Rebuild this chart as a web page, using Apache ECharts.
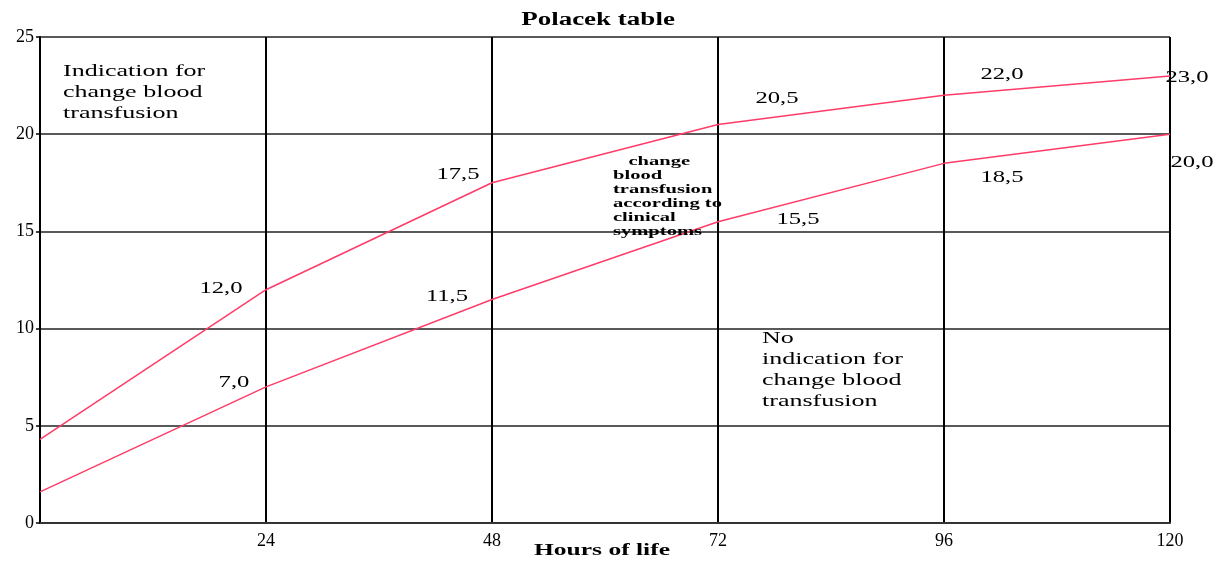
<!DOCTYPE html>
<html>
<head>
<meta charset="utf-8">
<script src="https://cdn.jsdelivr.net/npm/echarts@6/dist/echarts.min.js"></script>
<style>
  html, body { margin: 0; padding: 0; background: #fff; }
  #chart { width: 1221px; height: 562px; }
</style>
</head>
<body>
<div id="chart"></div>
<script>
// Polacek table: bilirubin thresholds for exchange transfusion by hours of life
const hours = [0, 24, 48, 72, 96, 120];
const upperLimit = [4.3, 12.0, 17.5, 20.5, 22.0, 23.0];
const lowerLimit = [1.6, 7.0, 11.5, 15.5, 18.5, 20.0];
const xTicks = [24, 48, 72, 96, 120];
const yTicks = [0, 5, 10, 15, 20, 25];

// label centre relative to its point ([dx, dy] in px); null = no label
const upperLabelOffsets = [null, [-45, -1], [-34, -8], [59, -26], [58, -21], [17, 2]];
const lowerLabelOffsets = [null, [-32, -4], [-45, -3], [80, -2], [58, 14], [22, 28]];

const lineColor = '#ff3c68';
const serif = '"Liberation Serif", serif';
const wide = 1.5; // horizontal stretch of the printed lettering

function fmt(v) { return v.toFixed(1).replace('.', ','); }

const chart = echarts.init(document.getElementById('chart'), null, { renderer: 'canvas' });

const axisText = { fontFamily: serif, fontSize: 18, color: '#000' };

chart.setOption({
  backgroundColor: '#fff',
  animation: false,
  textStyle: { fontFamily: serif, fontSize: 18 },
  grid: { left: 40, right: 51, top: 37, bottom: 39 },
  xAxis: {
    type: 'value',
    min: 0,
    max: 120,
    interval: 24,
    axisLine: { show: true, lineStyle: { color: '#333', width: 2 } },
    axisTick: { show: false },
    axisLabel: Object.assign({
      margin: 9,
      formatter: v => (xTicks.includes(v) ? String(v) : '')
    }, axisText),
    splitLine: { show: true, lineStyle: { color: '#000', width: 2 } }
  },
  yAxis: {
    type: 'value',
    min: 0,
    max: 25,
    interval: 5,
    axisLine: { show: true, lineStyle: { color: '#000', width: 2 } },
    axisTick: { show: true, length: 4, lineStyle: { color: '#000', width: 1.5 } },
    axisLabel: Object.assign({
      margin: 6,
      formatter: v => (yTicks.includes(v) ? String(v) : '')
    }, axisText),
    splitLine: { show: true, lineStyle: { color: '#222', width: 1.5 } }
  },
  series: [
    {
      name: 'upper',
      type: 'line',
      data: hours.map((h, i) => [h, upperLimit[i]]),
      showSymbol: false,
      lineStyle: { color: lineColor, width: 1.5 },
      itemStyle: { color: lineColor },
      z: 5
    },
    {
      name: 'lower',
      type: 'line',
      data: hours.map((h, i) => [h, lowerLimit[i]]),
      showSymbol: false,
      lineStyle: { color: lineColor, width: 1.5 },
      itemStyle: { color: lineColor },
      z: 5
    }
  ]
});

// stretched lettering: title, axis name, region notes
function stretchedText(x, y, text, font, opts, scale) {
  return {
    type: 'text',
    x: x,
    y: y,
    scaleX: scale || wide,
    z: 10,
    style: Object.assign({ text: text, font: font, fill: '#000' }, opts || {})
  };
}

const graphics = [
  stretchedText(598, 20, 'Polacek table', 'bold 18px ' + serif,
    { align: 'center', verticalAlign: 'middle' }),
  stretchedText(602, 551, 'Hours of life', 'bold 17px ' + serif,
    { align: 'center', verticalAlign: 'middle' }),
  stretchedText(63, 61, 'Indication for\nchange blood\ntransfusion', '17px ' + serif,
    { lineHeight: 21, verticalAlign: 'top' }, 1.53),
  stretchedText(613, 155, '   change\nblood\ntransfusion\naccording to\nclinical\nsymptoms',
    'bold 13px ' + serif, { lineHeight: 14, verticalAlign: 'top' }, 1.58),
  stretchedText(762, 328, 'No\nindication for\nchange blood\ntransfusion', '17px ' + serif,
    { lineHeight: 21, verticalAlign: 'top' }, 1.53)
];

// value labels placed through the chart's own axes
function addValueLabels(values, offsets) {
  values.forEach((v, i) => {
    if (!offsets[i]) return;
    const p = chart.convertToPixel({ xAxisIndex: 0, yAxisIndex: 0 }, [hours[i], v]);
    graphics.push(stretchedText(p[0] + offsets[i][0], p[1] + offsets[i][1], fmt(v), '17px ' + serif,
      { align: 'center', verticalAlign: 'middle' }, 1.45));
  });
}
addValueLabels(upperLimit, upperLabelOffsets);
addValueLabels(lowerLimit, lowerLabelOffsets);

chart.setOption({ graphic: graphics });
</script>
</body>
</html>
